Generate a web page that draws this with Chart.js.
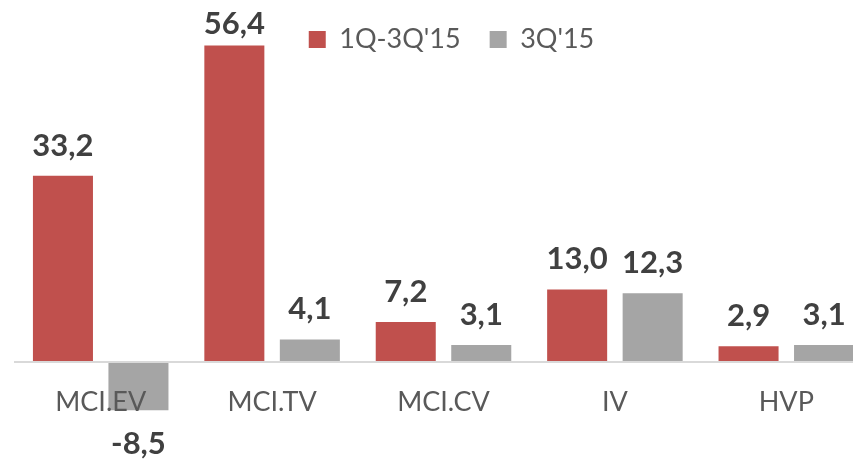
<!DOCTYPE html>
<html>
<head>
<meta charset="utf-8">
<script src="https://cdn.jsdelivr.net/npm/chart.js@4/dist/chart.umd.min.js"></script>
<style>
  html, body { margin: 0; padding: 0; background: #ffffff; }
  #wrap { width: 853px; height: 459px; overflow: hidden; position: relative; }
  #box { width: 872px; height: 459px; position: absolute; left: 0; top: 0; }
</style>
</head>
<body>
<div id="wrap"><div id="box"><canvas id="c"></canvas></div></div>
<script>
const categories = ['MCI.EV', 'MCI.TV', 'MCI.CV', 'IV', 'HVP'];
const seriesNames = ["1Q-3Q'15", "3Q'15"];
const values9m = [33.2, 56.4, 7.2, 13.0, 2.9];
const valuesQ3 = [-8.5, 4.1, 3.1, 12.3, 3.1];
const seriesColors = ['#C0504D', '#A5A5A5'];

const fontFamily = 'Lato, "Open Sans", sans-serif';

const dataLabels = {
  id: 'dataLabels',
  afterDatasetsDraw(chart) {
    const ctx = chart.ctx;
    ctx.save();
    ctx.font = 'bold 31px ' + fontFamily;
    ctx.fillStyle = '#404040';
    ctx.textAlign = 'center';
    ctx.textBaseline = 'alphabetic';
    chart.data.datasets.forEach((ds, di) => {
      const meta = chart.getDatasetMeta(di);
      meta.data.forEach((bar, i) => {
        const v = ds.data[i];
        const txt = v.toFixed(1).replace('.', ',');
        let y;
        if (v >= 0) {
          y = Math.max(bar.y - 20, 34);
        } else {
          y = bar.y + 44;
        }
        ctx.fillText(txt, bar.x, y);
      });
    });
    ctx.restore();
  }
};

const legendShift = {
  id: 'legendShift',
  afterLayout(chart) {
    const lg = chart.legend;
    if (!lg) return;
    const dx = 8;
    lg.left += dx; lg.right += dx;
    const h = lg.bottom - lg.top;
    lg.top = -3; lg.bottom = lg.top + h;
  }
};

new Chart(document.getElementById('c'), {
  type: 'bar',
  data: {
    labels: categories,
    datasets: [
      { label: seriesNames[0], data: values9m, backgroundColor: seriesColors[0], clip: false },
      { label: seriesNames[1], data: valuesQ3, backgroundColor: seriesColors[1], clip: false }
    ]
  },
  options: {
    responsive: true,
    maintainAspectRatio: false,
    animation: false,
    devicePixelRatio: 1,
    categoryPercentage: 0.881,
    barPercentage: 0.795,
    layout: { padding: { left: 15, right: 0, top: -52, bottom: 1 } },
    plugins: {
      tooltip: { enabled: false },
      legend: {
        position: 'top',
        align: 'center',
        labels: {
          boxWidth: 17,
          boxHeight: 17,
          padding: 29,
          color: '#595959',
          font: { family: fontFamily, size: 27 }
        }
      }
    },
    scales: {
      x: {
        position: { y: 0 },
        grid: { display: false, drawTicks: false },
        border: { display: true, color: '#D9D9D9', width: 2, z: 1 },
        ticks: {
          z: 1,
          color: '#595959',
          padding: 24,
          font: { family: fontFamily, size: 27 }
        }
      },
      y: {
        display: false,
        min: -17,
        max: 62
      }
    }
  },
  plugins: [dataLabels, legendShift]
});
</script>
</body>
</html>
